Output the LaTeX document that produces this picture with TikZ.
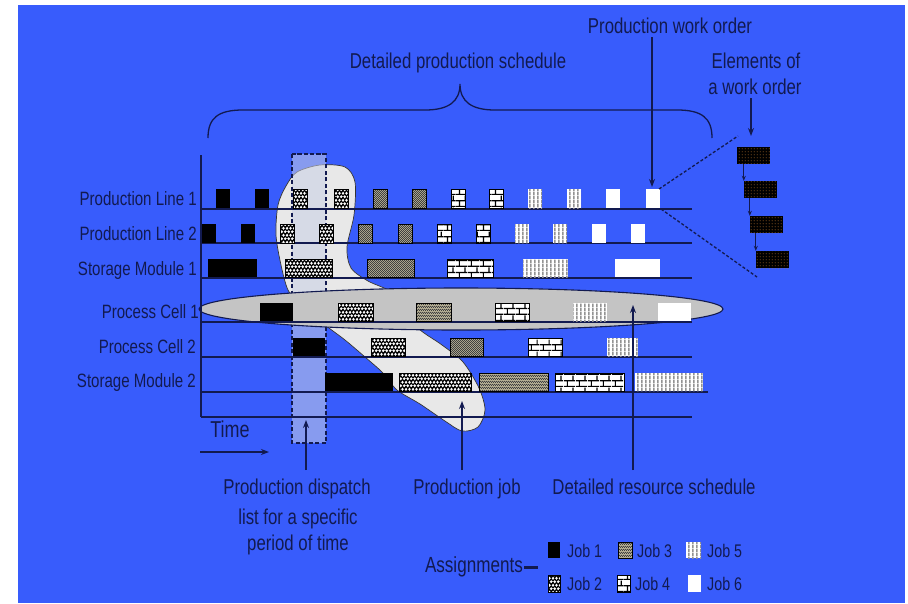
\documentclass[tikz,border=0pt]{standalone}
\usepackage{fontspec}
\setmainfont{Liberation Sans}[FakeStretch=0.78]
\usetikzlibrary{arrows.meta,patterns}
\definecolor{bgblue}{RGB}{56,92,252}
\definecolor{ink}{RGB}{18,26,80}
\definecolor{blobgray}{RGB}{232,232,232}
\definecolor{ellgray}{RGB}{196,196,196}
\definecolor{dispc}{RGB}{201,207,229}
\definecolor{jthreebg}{RGB}{185,178,150}
\definecolor{dotc}{RGB}{200,125,50}
\pgfdeclarepatternformonly{jtwo}{\pgfpoint{-2pt}{-1pt}}{\pgfpoint{9pt}{9pt}}{\pgfpoint{7pt}{7pt}}{%
  \pgfsetlinewidth{1.2pt}%
  \pgfpathmoveto{\pgfpoint{0pt}{1pt}}\pgfpathlineto{\pgfpoint{1.75pt}{3pt}}%
  \pgfpathlineto{\pgfpoint{3.5pt}{1pt}}\pgfpathlineto{\pgfpoint{5.25pt}{3pt}}\pgfpathlineto{\pgfpoint{7pt}{1pt}}%
  \pgfpathmoveto{\pgfpoint{-1.75pt}{4.5pt}}\pgfpathlineto{\pgfpoint{0pt}{6.5pt}}%
  \pgfpathlineto{\pgfpoint{1.75pt}{4.5pt}}\pgfpathlineto{\pgfpoint{3.5pt}{6.5pt}}\pgfpathlineto{\pgfpoint{5.25pt}{4.5pt}}\pgfpathlineto{\pgfpoint{7pt}{6.5pt}}%
  \pgfusepath{stroke}}
\pgfdeclarepatternformonly{jthree}{\pgfpointorigin}{\pgfpoint{2.4pt}{2.4pt}}{\pgfpoint{2.4pt}{2.4pt}}{%
  \pgfpathrectangle{\pgfpointorigin}{\pgfpoint{1.2pt}{1.2pt}}%
  \pgfpathrectangle{\pgfpoint{1.2pt}{1.2pt}}{\pgfpoint{1.2pt}{1.2pt}}%
  \pgfusepath{fill}}
\pgfdeclarepatternformonly{jfour}{\pgfpointorigin}{\pgfpoint{12pt}{12pt}}{\pgfpoint{12pt}{12pt}}{%
  \pgfpathrectangle{\pgfpointorigin}{\pgfpoint{12pt}{1.3pt}}%
  \pgfpathrectangle{\pgfpoint{0pt}{6pt}}{\pgfpoint{12pt}{1.3pt}}%
  \pgfpathrectangle{\pgfpoint{3pt}{0pt}}{\pgfpoint{1.2pt}{6pt}}%
  \pgfpathrectangle{\pgfpoint{9pt}{6pt}}{\pgfpoint{1.2pt}{6pt}}%
  \pgfusepath{fill}}
\pgfdeclarepatternformonly{jfive}{\pgfpointorigin}{\pgfpoint{3.6pt}{3.6pt}}{\pgfpoint{3.6pt}{3.6pt}}{%
  \pgfpathrectangle{\pgfpointorigin}{\pgfpoint{1.7pt}{3.6pt}}%
  \pgfusepath{fill}}
\pgfdeclarepatternformonly{jdots}{\pgfpointorigin}{\pgfpoint{3pt}{3pt}}{\pgfpoint{3pt}{3pt}}{%
  \pgfpathcircle{\pgfpoint{1.5pt}{1.5pt}}{0.6pt}%
  \pgfusepath{fill}}
\tikzset{
  j1/.style={fill=black},
  j2/.style={preaction={fill=white}, pattern=jtwo, pattern color=black, draw=black, line width=.5pt},
  j3/.style={preaction={fill=jthreebg}, pattern=jthree, pattern color=black!75, draw=black, line width=.5pt},
  j4/.style={preaction={fill=white}, pattern=jfour, pattern color=black, draw=black, line width=.5pt},
  j5/.style={preaction={fill=white}, pattern=jfive, pattern color=gray!85},
  j6/.style={fill=white},
  wobox/.style={rectangle, inner sep=0pt, minimum width=33pt, minimum height=17pt,
     preaction={fill=black}, pattern=jdots, pattern color=dotc},
  hline/.style={draw=ink, line width=1.2pt},
  arr/.style={draw=ink, line width=1.4pt, -{Stealth[length=8pt,width=6pt]}},
  sarr/.style={draw=ink, line width=1pt, -{Stealth[length=5pt,width=4pt]}},
  lbl/.style={text=ink, inner sep=0pt, font=\fontsize{21.5}{25}\selectfont},
  rowlbl/.style={text=ink, inner sep=0pt, anchor=base east, font=\fontsize{19.3}{22}\selectfont},
  leg/.style={text=ink, inner sep=0pt, anchor=base west, font=\fontsize{18.3}{21}\selectfont},
  dline/.style={draw=ink, line width=1.3pt, dash pattern=on 3pt off 2pt},
}
\begin{document}
\begin{tikzpicture}[x=1pt,y=-1pt]
\useasboundingbox (0,0) rectangle (908,603);
\fill[white] (0,0) rectangle (908,603);
\fill[bgblue] (18,5) rectangle (905,603);

% production job blob
\draw[fill=blobgray, draw=black!80, line width=.7pt] plot[smooth cycle] coordinates {
 (297,172) (320,165) (345,167) (355,182) (354,215) (347,247) (351,268) (368,281)
 (392,292) (410,310) (418,328) (442,345) (463,362) (479,388) (485,410) (478,427)
 (462,431) (445,421) (420,404) (397,390) (383,373) (365,357) (345,340) (325,325)
 (300,305) (288,290) (281,265) (276,235) (278,205) (286,186)};

% dispatch list window
\fill[dispc, opacity=.55] (292,154) rectangle (326,443);
\draw[ink, line width=1.3pt, dash pattern=on 4pt off 2.5pt] (292,154) rectangle (326,443);
\draw[ink, line width=2.6pt, dash pattern=on 4pt off 2pt] (292,154) -- (326,154);

% row labels
\node[rowlbl] (pl1) at (197,205) {Production Line 1};
\node[rowlbl] (pl2) at (197,240) {Production Line 2};
\node[rowlbl] (sm1) at (197,275) {Storage Module 1};
\node[rowlbl] (pc1) at (199,318) {Process Cell 1};
\node[rowlbl] (pc2) at (196,353) {Process Cell 2};
\node[rowlbl] (sm2) at (196,387) {Storage Module 2};

% resource schedule ellipse
\draw[fill=ellgray, draw=ink, line width=1.1pt] (461,309) ellipse [x radius=262, y radius=21];

% axes and row lines
\draw[hline] (201,155) -- (201,417);
\foreach \yy in {209,243,278,322,357,417} \draw[hline] (201,\yy) -- (692,\yy);
\draw[hline] (201,392) -- (708,392);

% row 1
\foreach \s/\xx in {j1/216,j1/255,j2/293,j2/334,j3/373,j3/412,j4/451,j4/489,j5/528,j5/567,j6/606,j6/646}
  \path[\s] (\xx,189) rectangle ++(14,19);
% row 2
\foreach \s/\xx in {j1/202,j1/241,j2/280,j2/319,j3/358,j3/398,j4/437,j4/476,j5/515,j5/553,j6/592,j6/631}
  \path[\s] (\xx,224) rectangle ++(14,19);
% row 3
\foreach \s/\xa/\xb in {j1/208/257,j2/285/332,j3/367/414,j4/447/493,j5/523/568,j6/615/660}
  \path[\s] (\xa,259) rectangle (\xb,277);
% row 4
\foreach \s/\xa/\xb in {j1/260/293,j2/338/373,j3/416/451,j4/495/529,j5/573/607,j6/658/691}
  \path[\s] (\xa,303) rectangle (\xb,321);
% row 5
\foreach \s/\xa/\xb in {j1/293/325,j2/371/405,j3/450/483,j4/528/562,j5/607/638}
  \path[\s] (\xa,338) rectangle (\xb,356);
% row 6
\foreach \s/\xa/\xb in {j1/325/393,j2/399/471,j3/479/548,j4/555/624,j5/635/703}
  \path[\s] (\xa,373) rectangle (\xb,391);

% brace
\draw[ink, line width=1.3pt] (208,138) .. controls (208,118) and (218,110) .. (243,110)
  -- (425,110) .. controls (448,110) and (460,102) .. (460,84)
  .. controls (460,102) and (472,110) .. (495,110)
  -- (677,110) .. controls (702,110) and (712,118) .. (712,138);

% top labels
\node[lbl, anchor=base] (dps) at (458,68) {Detailed production schedule};
\node[lbl, anchor=base] (pwo) at (670,33) {Production work order};
\node[lbl, anchor=base] (el1) at (756,68) {Elements of};
\node[lbl, anchor=base] (el2) at (755,94) {a work order};

\coordinate (woT) at (652,187);
\draw[arr] (woT |- pwo.south) ++(0,4) -- (woT);
\coordinate (elT) at (751,136);
\draw[arr] (elT |- el2.south) ++(0,4) -- (elT);

% work order elements
\node[wobox] (w1) at (753.5,155) {};
\node[wobox] (w2) at (760.5,189.5) {};
\node[wobox] (w3) at (766.5,224.5) {};
\node[wobox] (w4) at (772.5,259.5) {};
\draw[sarr] (w2.north west |- w1.south) -- (w2.north west);
\draw[sarr] (w3.north west |- w2.south) -- (w3.north west);
\draw[sarr] (w4.north west |- w3.south) -- (w4.north west);

% zoom dashed lines
\coordinate (zA) at (659,189);
\coordinate (zB) at (738,136);
\coordinate (zC) at (661,209);
\coordinate (zD) at (757,277);
\draw[dline] (zA) -- (zB);
\draw[dline] (zC) -- (zD);

% time
\node[text=ink, inner sep=0pt, anchor=base, font=\fontsize{23}{26}\selectfont] (time) at (230,437) {Time};
\coordinate (tA) at (200,452);
\coordinate (tB) at (269,452);
\draw[arr] (tA) -- (tB);

% bottom labels
\node[lbl, anchor=base] (pd1) at (297,494) {Production dispatch};
\node[lbl, anchor=base] (pd2) at (298,524) {list for a specific};
\node[lbl, anchor=base] (pd3) at (298,550) {period of time};
\node[lbl, anchor=base] (pj) at (467,494) {Production job};
\node[lbl, anchor=base] (drs) at (654,494) {Detailed resource schedule};

\coordinate (pdT) at (306,420);
\draw[arr] (pdT |- pd1.north) ++(0,-8) -- (pdT);
\coordinate (pjT) at (462,401);
\draw[arr] (pjT |- pj.north) ++(0,-8) -- (pjT);
\coordinate (drT) at (633,305);
\draw[arr] (drT |- drs.north) ++(0,-8) -- (drT);

% legend
\node[lbl, anchor=base east, font=\fontsize{21.9}{25}\selectfont] (asg) at (523,572) {Assignments};
\draw[ink, line width=3pt] (asg.east) ++(1,1) -- ++(14,0);
\path[j1] (548,542) rectangle (560,558);
\path[j3] (618,542) rectangle (632,558);
\path[j5] (686,542) rectangle (701,558);
\path[j2] (548,575) rectangle (560,592);
\path[j4] (617,575) rectangle (630,592);
\path[j6] (688,575) rectangle (701,592);
\node[leg] (lg1) at (567,557) {Job 1};
\node[leg] (lg3) at (637,557) {Job 3};
\node[leg] (lg5) at (707,557) {Job 5};
\node[leg] (lg2) at (567,590) {Job 2};
\node[leg] (lg4) at (635,590) {Job 4};
\node[leg] (lg6) at (707,590) {Job 6};
\end{tikzpicture}
\end{document}
